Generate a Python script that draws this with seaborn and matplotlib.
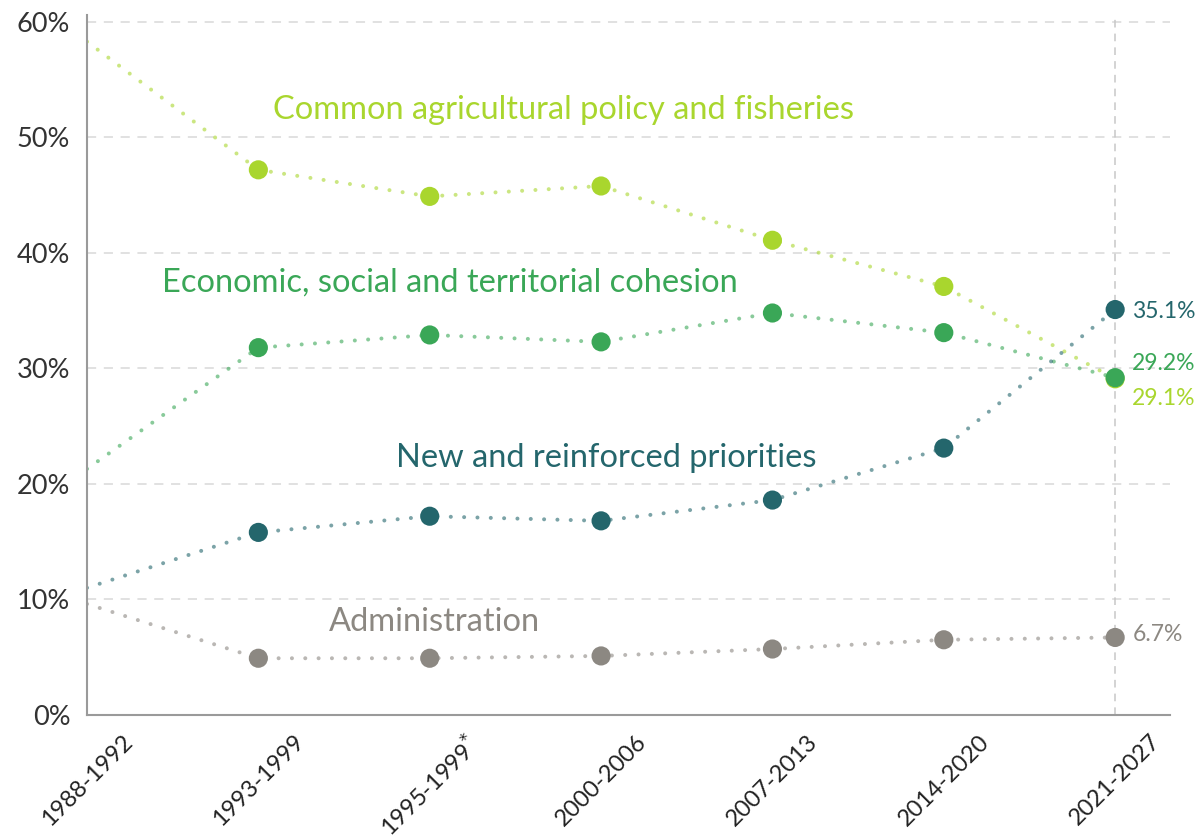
import matplotlib
matplotlib.use("Agg")
import matplotlib.pyplot as plt
import seaborn as sns
import pandas as pd

periods = ["1988-1992", "1993-1999", "1995-1999$^{*}$", "2000-2006", "2007-2013", "2014-2020", "2021-2027"]
cap = [58.3, 47.2, 44.9, 45.8, 41.1, 37.1, 29.1]
cohesion = [21.3, 31.8, 32.9, 32.3, 34.8, 33.1, 29.2]
priorities = [11.0, 15.8, 17.2, 16.8, 18.6, 23.1, 35.1]
admin = [9.6, 4.9, 4.9, 5.1, 5.7, 6.5, 6.7]

series_names = ["Common agricultural policy and fisheries",
                "Economic, social and territorial cohesion",
                "New and reinforced priorities",
                "Administration"]
series_values = [cap, cohesion, priorities, admin]
colors = ["#a9d62e", "#3aa757", "#24666c", "#8c8882"]
end_labels = ["29.1%", "29.2%", "35.1%", "6.7%"]

rows = []
for name, vals in zip(series_names, series_values):
    for i, v in enumerate(vals):
        rows.append({"series": name, "pos": i, "value": v})
df = pd.DataFrame(rows)

sns.set_theme(style="white")
plt.rcParams['font.family'] = ['Lato', 'DejaVu Sans']

fig = plt.figure(figsize=(12, 8.39), dpi=100)
ax = fig.add_axes([0.0725, 0.148, 0.9025, 0.834])

palette = dict(zip(series_names, colors))

for name in series_names:
    sub = df[df["series"] == name]
    sns.lineplot(data=sub, x="pos", y="value", ax=ax, color=palette[name],
                 linewidth=2.9, alpha=0.6, legend=False,
                 linestyle=(0, (0.01, 3.3)), dash_capstyle="round")
for name in series_names:
    sub = df[(df["series"] == name) & (df["pos"] > 0)]
    sns.scatterplot(data=sub, x="pos", y="value", ax=ax, color=palette[name],
                    s=190, edgecolor="none", legend=False, zorder=5)

# vertical dashed line at last period
ax.axvline(len(periods) - 1, color="#c8c8c8", linestyle=(0, (5, 4)), linewidth=1.1, zorder=1)

ax.set_ylim(0, 60.6)
ax.set_xlim(0, 6.32)
ax.set_yticks([0, 10, 20, 30, 40, 50, 60])
ax.set_yticklabels([f"{v}%" for v in [0, 10, 20, 30, 40, 50, 60]], fontsize=19.5, color="#333333")
ax.set_xticks(range(len(periods)))
ax.set_xticklabels(periods, rotation=45, ha="center", va="top",
                   fontsize=17, color="#222222")
ax.set_xlabel("")
ax.set_ylabel("")

for y in [10, 20, 30, 40, 50, 60]:
    ax.axhline(y, color="#d9d9d9", linestyle=(0, (6, 5)), linewidth=1.1, zorder=0)

for s in ["top", "right"]:
    ax.spines[s].set_visible(False)
for s in ["left", "bottom"]:
    ax.spines[s].set_color("#9a9a9a")
    ax.spines[s].set_linewidth(1.5)
ax.tick_params(axis="x", length=7, color="#b0b0b0", width=1, direction="inout", pad=8)
ax.tick_params(axis="y", length=7, color="#d0d0d0", width=1, pad=5)

# series labels
label_pos = [(2.78, 52.4), (2.12, 37.4), (3.03, 22.2), (2.03, 8.0)]
for name, (x, y), c in zip(series_names, label_pos, colors):
    ax.text(x, y, name, color=c, fontsize=23.5, ha="center", va="center")

# end labels
end_y = [27.4, 30.4, 34.9, 7.0]
for lab, y, c in zip(end_labels, end_y, colors):
    ax.text(6.1, y, lab, color=c, fontsize=16.5, ha="left", va="center")

fig.savefig("out.png", dpi=100)
